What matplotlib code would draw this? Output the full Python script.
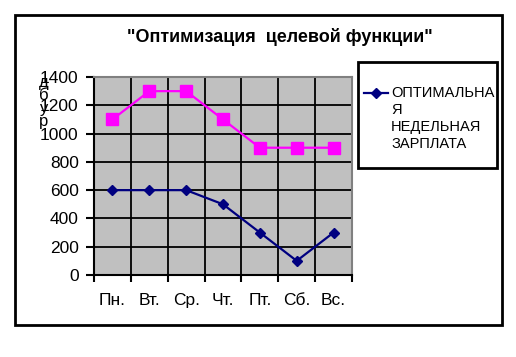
import matplotlib.pyplot as plt
import matplotlib.transforms as mtransforms
from matplotlib.patches import Rectangle
from matplotlib.lines import Line2D

plt.rcParams['font.family'] = ['Liberation Sans', 'DejaVu Sans']

days = ["Пн.", "Вт.", "Ср.", "Чт.", "Пт.", "Сб.", "Вс."]
optimal_pay = [600, 600, 600, 500, 300, 100, 300]
upper_pay = [1100, 1300, 1300, 1100, 900, 900, 900]
y_ticks = [0, 200, 400, 600, 800, 1000, 1200, 1400]

W, H = 516, 357
fig = plt.figure(figsize=(W / 100, H / 100), dpi=100)

# outer chart frame
fig.patches.append(Rectangle((15 / W, 1 - 325 / H), 487 / W, 310 / H,
                             transform=fig.transFigure, fill=False,
                             edgecolor="black", linewidth=2))

ax = fig.add_axes([94 / W, 1 - 275 / H, 258 / W, 198 / H])
ax.set_facecolor("#c0c0c0")
x = list(range(len(days)))

ax.plot(x, upper_pay, color="#ff00ff", marker="s", markersize=8,
        linewidth=1.6, zorder=3, clip_on=False)
ax.plot(x, optimal_pay, color="#000080", marker="D", markersize=5.5,
        linewidth=1.6, zorder=3, clip_on=False)

ax.set_xlim(-0.5, len(days) - 0.5)
ax.set_ylim(0, 1400)
ax.set_yticks(y_ticks)
ax.set_xticks([i - 0.5 for i in range(len(days) + 1)])
ax.set_xticklabels([])
ax.tick_params(axis="x", length=5, width=1.5, direction="out")
ax.tick_params(axis="y", length=6, width=1.5, direction="out", pad=5,
               labelsize=12.5)
ax.grid(True, color="black", linewidth=1.3)
ax.set_axisbelow(True)
for side in ["top", "right"]:
    ax.spines[side].set_color("#808080")
    ax.spines[side].set_linewidth(1.5)
for side in ["left", "bottom"]:
    ax.spines[side].set_color("black")
    ax.spines[side].set_linewidth(1.5)

# category labels sit between the tick marks
trans = mtransforms.blended_transform_factory(ax.transData, ax.transAxes)
for xi, day in zip(x, days):
    ax.text(xi, -0.152, day, transform=trans, ha="center", va="baseline",
            fontsize=12.5)

fig.text(280 / W, 1 - 37 / H, '"Оптимизация  целевой функции"',
         ha="center", va="center", fontsize=13, fontweight="bold")

# stacked axis title, partly hidden behind tick labels like in the source
fig.text(44 / W, 1 - 102 / H, "д\nб\nу\nр", ha="center", va="center",
         fontsize=12, linespacing=0.82)

# legend box
fig.patches.append(Rectangle((358 / W, 1 - 168 / H), 139 / W, 106 / H,
                             transform=fig.transFigure, fill=False,
                             edgecolor="black", linewidth=2))
fig.lines.append(Line2D([364 / W, 388 / W], [1 - 93 / H, 1 - 93 / H],
                        transform=fig.transFigure, color="#000080",
                        linewidth=1.6))
fig.lines.append(Line2D([376 / W], [1 - 93 / H], transform=fig.transFigure,
                        color="#000080", marker="D", markersize=5.5))
fig.text(391 / W, 1 - 86 / H, "ОПТИМАЛЬНА\nЯ\nНЕДЕЛЬНАЯ\nЗАРПЛАТА",
         ha="left", va="top", fontsize=10.5, linespacing=1.27)

fig.savefig("out.png", dpi=100, facecolor="white")
